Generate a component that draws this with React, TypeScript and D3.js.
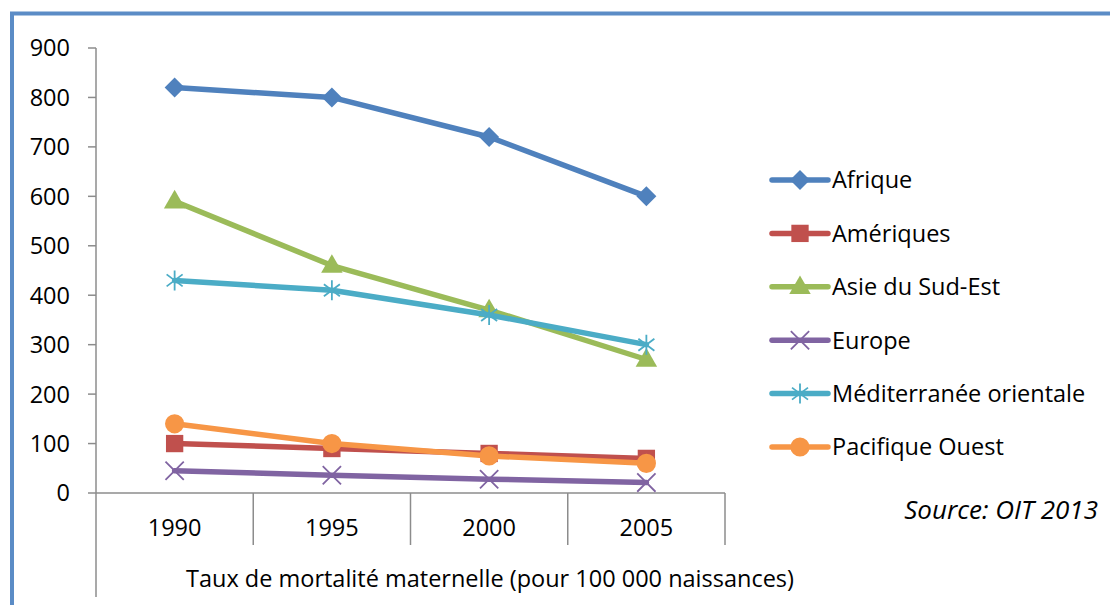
import React from "react";
import * as d3 from "d3";

const years = ["1990", "1995", "2000", "2005"];
const yTicks = [0, 100, 200, 300, 400, 500, 600, 700, 800, 900];

const afrique = [820, 800, 720, 600];
const ameriques = [100, 90, 80, 70];
const asieSudEst = [590, 460, 370, 270];
const europe = [45, 36, 28, 21];
const mediterranee = [430, 410, 360, 300];
const pacifique = [140, 100, 75, 60];

const seriesNames = [
  "Afrique",
  "Amériques",
  "Asie du Sud-Est",
  "Europe",
  "Méditerranée orientale",
  "Pacifique Ouest",
];
const seriesValues = [afrique, ameriques, asieSudEst, europe, mediterranee, pacifique];
const seriesColors = ["#4F81BD", "#C0504D", "#9BBB59", "#8064A2", "#4BACC6", "#F79646"];
const seriesMarkers = ["diamond", "square", "triangle", "x", "star", "circle"];

const axisTitle = "Taux de mortalité maternelle (pour 100 000 naissances)";
const sourceText = "Source: OIT 2013";

const FONT = "'Open Sans', sans-serif";
const AXIS = "#8c8c8c";
const FS = 23.5;

function Marker({ kind, x, y, color }: { kind: string; x: number; y: number; color: string }) {
  if (kind === "diamond") {
    const p = d3.symbol().type(d3.symbolSquare).size(200)();
    return <path d={p || ""} transform={`translate(${x},${y}) rotate(45)`} fill={color} />;
  }
  if (kind === "square") {
    const p = d3.symbol().type(d3.symbolSquare).size(300)();
    return <path d={p || ""} transform={`translate(${x},${y})`} fill={color} />;
  }
  if (kind === "triangle") {
    const p = d3.symbol().type(d3.symbolTriangle).size(200)();
    return <path d={p || ""} transform={`translate(${x},${y + 1})`} fill={color} />;
  }
  if (kind === "circle") {
    const p = d3.symbol().type(d3.symbolCircle).size(290)();
    return <path d={p || ""} transform={`translate(${x},${y})`} fill={color} />;
  }
  if (kind === "x") {
    const p = d3.symbol().type(d3.symbolX).size(220)();
    return <path d={p || ""} transform={`translate(${x},${y})`} fill="none" stroke={color} strokeWidth={1.8} />;
  }
  const r = 10;
  const d = `M0,${-r}L0,${r}M${-r * 0.8},${-r * 0.6}L${r * 0.8},${r * 0.6}M${-r * 0.8},${r * 0.6}L${r * 0.8},${-r * 0.6}`;
  return <path d={d} transform={`translate(${x},${y})`} fill="none" stroke={color} strokeWidth={1.8} />;
}

export default function App() {
  const W = 1110;
  const H = 605;
  const left = 96;
  const right = 725;
  const top = 48;
  const bottom = 493;

  const x = d3.scaleBand<string>().domain(years).range([left, right]).padding(0);
  const y = d3.scaleLinear().domain([0, 900]).range([bottom, top]);
  const cx = (yr: string) => (x(yr) as number) + x.bandwidth() / 2;

  const line = d3
    .line<number>()
    .x((_, i) => cx(years[i]))
    .y((v) => y(v));

  const legendX = 772;
  const legendY0 = 180;
  const legendStep = 53.4;

  return (
    <svg
      width={W}
      height={H}
      style={{ position: "absolute", left: 0, top: 0, background: "#fff" }}
      fontFamily={FONT}
    >
      <rect x={0} y={0} width={W} height={H} fill="#fff" />
      <rect x={12} y={13.5} width={W + 20} height={H + 20} fill="none" stroke="#5B8CC6" strokeWidth={4} />

      <line x1={left} x2={left} y1={top} y2={597} stroke={AXIS} strokeWidth={1.5} />
      {yTicks.map((t) => (
        <g key={t}>
          <line x1={88} x2={left} y1={y(t)} y2={y(t)} stroke={AXIS} strokeWidth={1.5} />
          <text x={70} y={y(t)} dy="0.36em" textAnchor="end" fontSize={FS} fill="#000">
            {t}
          </text>
        </g>
      ))}

      <line x1={left} x2={right} y1={bottom} y2={bottom} stroke={AXIS} strokeWidth={1.5} />
      {years.map((yr, i) => (
        <g key={yr}>
          {i > 0 && (
            <line x1={x(yr)} x2={x(yr)} y1={bottom} y2={545} stroke={AXIS} strokeWidth={1.5} />
          )}
          <text x={cx(yr)} y={528} dy="0.36em" textAnchor="middle" fontSize={FS} fill="#000">
            {yr}
          </text>
        </g>
      ))}
      <line x1={right} x2={right} y1={bottom} y2={545} stroke={AXIS} strokeWidth={1.5} />
      <text x={490} y={579} dy="0.36em" textAnchor="middle" fontSize={FS} fill="#000">
        {axisTitle}
      </text>

      {seriesValues.map((vals, si) => (
        <g key={seriesNames[si]}>
          <path
            d={line(vals) || ""}
            fill="none"
            stroke={seriesColors[si]}
            strokeWidth={5.5}
            strokeLinejoin="round"
            strokeLinecap="round"
          />
          {vals.map((v, i) => (
            <Marker key={i} kind={seriesMarkers[si]} x={cx(years[i])} y={y(v)} color={seriesColors[si]} />
          ))}
        </g>
      ))}

      {seriesNames.map((n, si) => {
        const ly = legendY0 + si * legendStep;
        return (
          <g key={n}>
            <line
              x1={legendX}
              x2={legendX + 56}
              y1={ly}
              y2={ly}
              stroke={seriesColors[si]}
              strokeWidth={5.5}
              strokeLinecap="round"
            />
            <Marker kind={seriesMarkers[si]} x={legendX + 28} y={ly} color={seriesColors[si]} />
            <text x={832} y={ly} dy="0.36em" fontSize={FS} fill="#000">
              {n}
            </text>
          </g>
        );
      })}

      <text x={1098} y={510} dy="0.36em" textAnchor="end" fontSize={26} fontStyle="italic" fill="#000">
        {sourceText}
      </text>
    </svg>
  );
}
